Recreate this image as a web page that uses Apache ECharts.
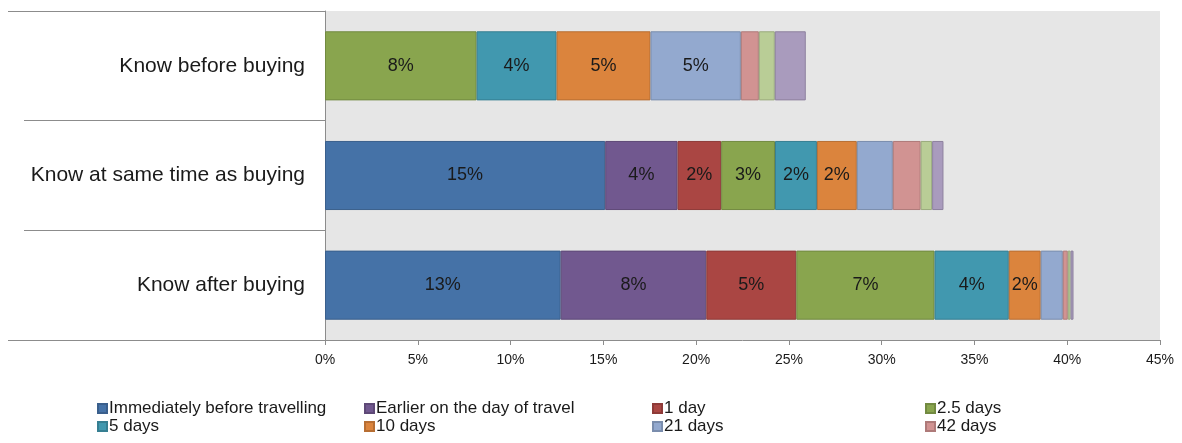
<!DOCTYPE html>
<html>
<head>
<meta charset="utf-8">
<script src="https://cdn.jsdelivr.net/npm/echarts@6/dist/echarts.min.js"></script>
<style>
  html, body { margin: 0; padding: 0; background: #ffffff; }
  #chart { width: 1182px; height: 443px; }
</style>
</head>
<body>
<div id="chart"></div>
<script>
// Groups of respondents (top to bottom)
const categories = ['Know before buying', 'Know at same time as buying', 'Know after buying'];

// Share of respondents (%) per timing band, one array per band, in category order
const seriesNames = [
  'Immediately before travelling', 'Earlier on the day of travel', '1 day', '2.5 days',
  '5 days', '10 days', '21 days', '42 days', '84 days', 'Longer'
];
const immediately = [0, 15.1, 12.7];
const earlierSameDay = [0, 3.9, 7.85];
const oneDay = [0, 2.35, 4.85];
const twoHalfDays = [8.17, 2.9, 7.45];
const fiveDays = [4.31, 2.26, 4.0];
const tenDays = [5.06, 2.15, 1.72];
const twentyOneDays = [4.87, 1.94, 1.19];
const fortyTwoDays = [0.97, 1.5, 0.27];
const eightyFourDays = [0.86, 0.62, 0.15];
const longer = [1.67, 0.61, 0.16];
const seriesValues = [immediately, earlierSameDay, oneDay, twoHalfDays, fiveDays,
  tenDays, twentyOneDays, fortyTwoDays, eightyFourDays, longer];

// Axis ticks
const xTicks = [0, 5, 10, 15, 20, 25, 30, 35, 40, 45];

const fills = ['#4572A7', '#71588F', '#AA4643', '#89A54E', '#4198AF',
  '#DB843D', '#93A9CF', '#D19392', '#B9CD96', '#A99BBD'];
const edges = ['#3A5F8C', '#5E4977', '#8E3A38', '#728A41', '#367F92',
  '#B76E33', '#7A8DAD', '#AE7A79', '#9AAB7D', '#8D819E'];

const FONT = '"Liberation Sans", Arial, sans-serif';
const GRID = { left: 325, right: 22, top: 11, bottom: 103 };
const H = 443;

// Only the larger bands carry value labels
function labelShown(seriesIndex, v) {
  return v > 0 && (seriesIndex < 6 || v >= 3);
}

const series = seriesNames.map((name, si) => ({
  name: name,
  type: 'bar',
  stack: 'total',
  barWidth: '63%',
  itemStyle: { color: fills[si], borderColor: edges[si], borderWidth: 1 },
  emphasis: { disabled: true },
  data: seriesValues[si].map(v => ({
    value: v,
    itemStyle: v > 0 ? undefined : { borderWidth: 0 },
    label: {
      show: labelShown(si, v),
      position: 'inside',
      formatter: p => Math.round(p.value) + '%',
      color: '#1a1a1a',
      fontFamily: FONT,
      fontSize: 18
    }
  }))
}));

// Four legend columns, two rows each
const legendCols = [97, 364, 652, 925];
const legends = legendCols.map((x, c) => ({
  orient: 'vertical',
  left: x,
  top: 400,
  padding: 0,
  itemGap: 1,
  itemWidth: 9,
  itemHeight: 9,
  icon: 'rect',
  selectedMode: false,
  data: [seriesNames[c], seriesNames[c + 4]],
  textStyle: { fontFamily: FONT, fontSize: 17, color: '#1a1a1a', padding: [0, 0, 0, -3] }
}));

const chart = echarts.init(document.getElementById('chart'), null, { renderer: 'canvas' });
chart.setOption({
  animation: false,
  backgroundColor: '#ffffff',
  grid: {
    left: GRID.left, right: GRID.right, top: GRID.top, bottom: GRID.bottom,
    show: true, backgroundColor: '#e6e6e6', borderWidth: 0
  },
  legend: legends,
  xAxis: {
    type: 'value',
    min: xTicks[0],
    max: xTicks[xTicks.length - 1],
    interval: xTicks[1] - xTicks[0],
    axisLine: { show: true, lineStyle: { color: '#8c8c8c', width: 1 } },
    axisTick: { show: true, length: 5, lineStyle: { color: '#8c8c8c' } },
    splitLine: { show: false },
    axisLabel: {
      formatter: '{value}%', margin: 13,
      fontFamily: FONT, fontSize: 14, color: '#1a1a1a'
    }
  },
  yAxis: {
    type: 'category',
    inverse: true,
    data: categories,
    axisLine: { show: true, lineStyle: { color: '#8c8c8c', width: 1 } },
    axisTick: { show: true, interval: 0, length: 301, lineStyle: { color: '#8c8c8c' } },
    axisLabel: { margin: 20, fontFamily: FONT, fontSize: 21, color: '#1a1a1a' }
  },
  // frame lines that continue the outer band edges to the left margin
  graphic: [
    { type: 'line', silent: true, shape: { x1: 8, y1: GRID.top + 0.5, x2: GRID.left - 301, y2: GRID.top + 0.5 },
      style: { stroke: '#8c8c8c', lineWidth: 1 } },
    { type: 'line', silent: true, shape: { x1: 8, y1: H - GRID.bottom + 0.5, x2: GRID.left - 301, y2: H - GRID.bottom + 0.5 },
      style: { stroke: '#8c8c8c', lineWidth: 1 } }
  ],
  series: series
});
</script>
</body>
</html>
